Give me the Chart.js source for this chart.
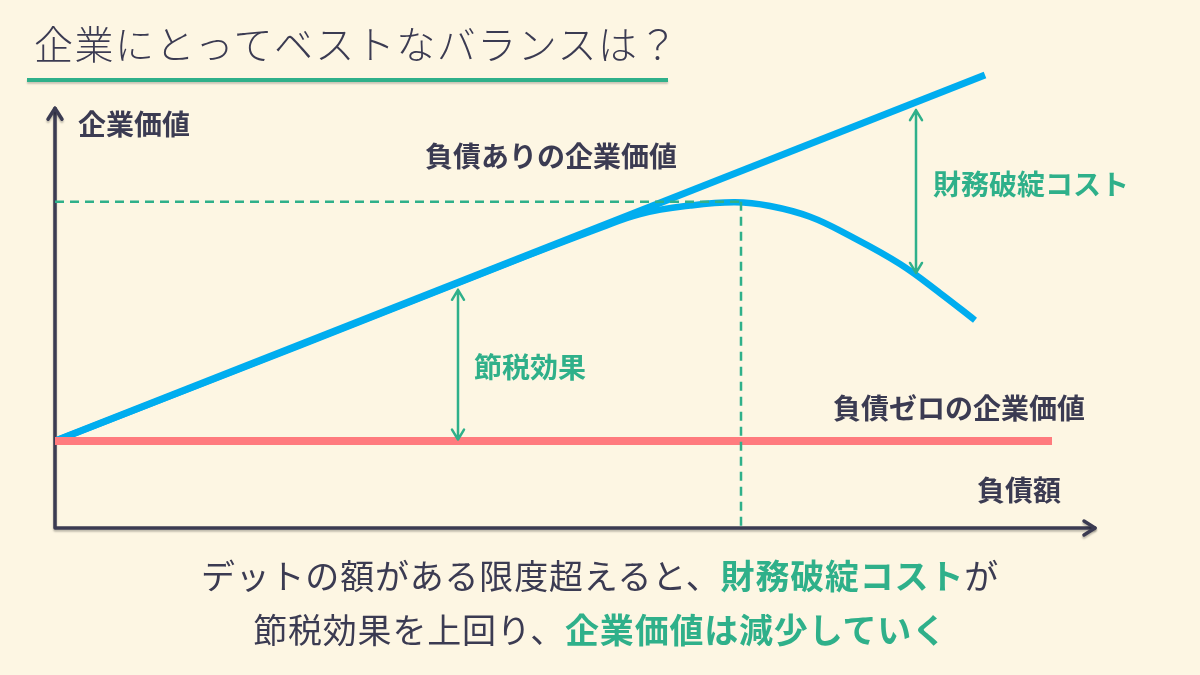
<!DOCTYPE html>
<html lang="ja">
<head>
<meta charset="utf-8">
<script src="https://cdn.jsdelivr.net/npm/chart.js@4.4.1/dist/chart.umd.min.js"></script>
<style>
  html, body { margin: 0; padding: 0; background: #fdf6e3; }
  body { width: 1200px; height: 675px; position: relative; overflow: hidden;
         font-family: "Noto Sans CJK JP", "Noto Sans", sans-serif; color: #3b3b52; }
  #wrap { position: absolute; left: 0; top: 0; width: 1200px; height: 675px; }
  #title { position: absolute; left: 34px; top: 14px; font-size: 39px; font-weight: 300;
           letter-spacing: 1.5px; white-space: nowrap; }
  #rule { position: absolute; left: 27px; top: 78px; width: 641px; height: 4px;
          background: #2fb08a; box-shadow: 0 2px 2px rgba(0,0,0,0.2); }
  .cap { position: absolute; left: 0; width: 1200px; text-align: center; font-size: 34px;
         white-space: nowrap; font-weight: 400; letter-spacing: 0.8px; }
  .cap b { color: #2fb08a; font-weight: 700; }
  #cap1 { top: 550px; }
  #cap2 { top: 604px; }
</style>
</head>
<body>
<div id="wrap"><canvas id="chart" width="1200" height="675"></canvas></div>
<div id="title">企業にとってベストなバランスは？</div>
<div id="rule"></div>
<div class="cap" id="cap1">デットの額がある限度超えると、<b>財務破綻コスト</b>が</div>
<div class="cap" id="cap2">節税効果を上回り、<b>企業価値は減少していく</b></div>
<script>
// Debt amount (x) and firm value (y)
const lineX = [0, 93];
const lineY = [18.6, 96.8];            // 理論上の企業価値 (節税効果のみ)
const curveX = [0, 24.5, 44.5, 54.5, 58.5, 63.5, 68, 71.5, 75.5, 79.5, 84.5, 88.5, 92];
const curveY = [18.6, 39.0, 55.9, 64.1, 67.1, 68.9, 69.6, 68.8, 66.5, 62.4, 56.4, 50.2, 44.4];
const zeroX = [0, 99.7];
const zeroY = [18.6, 18.6];            // 負債ゼロの企業価値
const optimumX = 68.6;
const optimumY = 69.7;

// double arrows: x, top, bottom
const arrowX = [40.3, 86.1];
const arrowTop = [50.9, 89.3];
const arrowBottom = [18.9, 54.5];

const labels = [
  { text: '企業価値', x: 2.3, y: 86.2, color: '#3b3b52' },
  { text: '負債ありの企業価値', x: 37, y: 79.4, color: '#3b3b52' },
  { text: '財務破綻コスト', x: 87.8, y: 73.4, color: '#2fb08a' },
  { text: '節税効果', x: 41.9, y: 34.4, color: '#2fb08a' },
  { text: '負債ゼロの企業価値', x: 77.8, y: 25.6, color: '#3b3b52' },
  { text: '負債額', x: 92.2, y: 8.1, color: '#3b3b52' }
];

const BLUE = '#00adef';
const RED = '#ff7b7e';
const GREEN = '#2fb08a';
const INK = '#3b3b52';

function pts(xs, ys) { return xs.map((x, i) => ({ x: x, y: ys[i] })); }

const axesPlugin = {
  id: 'axes',
  beforeDatasetsDraw(chart) {
    const ctx = chart.ctx, a = chart.chartArea, ys = chart.scales.y;
    const top = ys.getPixelForValue(89.7);
    ctx.save();
    ctx.strokeStyle = INK;
    ctx.lineWidth = 3.5;
    ctx.lineCap = 'round';
    ctx.lineJoin = 'round';
    ctx.shadowColor = 'rgba(0,0,0,0.25)';
    ctx.shadowOffsetY = 2;
    ctx.shadowBlur = 2;
    ctx.beginPath();
    ctx.moveTo(a.left, top);
    ctx.lineTo(a.left, a.bottom);
    ctx.lineTo(a.right, a.bottom);
    ctx.stroke();
    ctx.beginPath();
    ctx.moveTo(a.left - 7, top + 11); ctx.lineTo(a.left, top); ctx.lineTo(a.left + 7, top + 11);
    ctx.moveTo(a.right - 11, a.bottom - 7); ctx.lineTo(a.right, a.bottom); ctx.lineTo(a.right - 11, a.bottom + 7);
    ctx.stroke();
    ctx.restore();
  },
  afterDatasetsDraw(chart) {
    const ctx = chart.ctx, xs = chart.scales.x, ys = chart.scales.y;
    ctx.save();
    ctx.strokeStyle = GREEN;
    ctx.lineWidth = 2.5;
    ctx.lineCap = 'round';
    ctx.lineJoin = 'round';
    arrowX.forEach((v, i) => {
      const px = xs.getPixelForValue(v);
      const t = ys.getPixelForValue(arrowTop[i]);
      const b = ys.getPixelForValue(arrowBottom[i]);
      ctx.beginPath();
      ctx.moveTo(px, t); ctx.lineTo(px, b);
      ctx.moveTo(px - 6, t + 10); ctx.lineTo(px, t); ctx.lineTo(px + 6, t + 10);
      ctx.moveTo(px - 6, b - 10); ctx.lineTo(px, b); ctx.lineTo(px + 6, b - 10);
      ctx.stroke();
    });
    ctx.font = '700 28px "Noto Sans CJK JP", sans-serif';
    ctx.textBaseline = 'middle';
    ctx.textAlign = 'left';
    labels.forEach(l => {
      ctx.fillStyle = l.color;
      ctx.fillText(l.text, xs.getPixelForValue(l.x), ys.getPixelForValue(l.y));
    });
    ctx.restore();
  }
};

new Chart(document.getElementById('chart'), {
  type: 'line',
  data: {
    datasets: [
      { data: [{ x: 0, y: optimumY }, { x: optimumX, y: optimumY }],
        borderColor: GREEN, borderWidth: 2.5, borderDash: [9, 6], pointRadius: 0 },
      { data: [{ x: optimumX, y: optimumY }, { x: optimumX, y: 0 }],
        borderColor: GREEN, borderWidth: 2.5, borderDash: [9, 6], pointRadius: 0 },
      { data: pts(zeroX, zeroY), borderColor: RED, borderWidth: 8, pointRadius: 0 },
      { data: pts(curveX, curveY), borderColor: BLUE, borderWidth: 6.5, pointRadius: 0,
        tension: 0.4 },
      { data: pts(lineX, lineY), borderColor: BLUE, borderWidth: 7, pointRadius: 0 }
    ]
  },
  options: {
    responsive: false,
    animation: false,
    events: [],
    layout: { padding: { left: 55, right: 105, top: 60, bottom: 147 } },
    scales: {
      x: { type: 'linear', min: 0, max: 104, display: false },
      y: { type: 'linear', min: 0, max: 100, display: false }
    },
    plugins: { legend: { display: false }, tooltip: { enabled: false } },
    elements: { line: { borderCapStyle: 'butt' } }
  },
  plugins: [axesPlugin]
});
</script>
</body>
</html>
